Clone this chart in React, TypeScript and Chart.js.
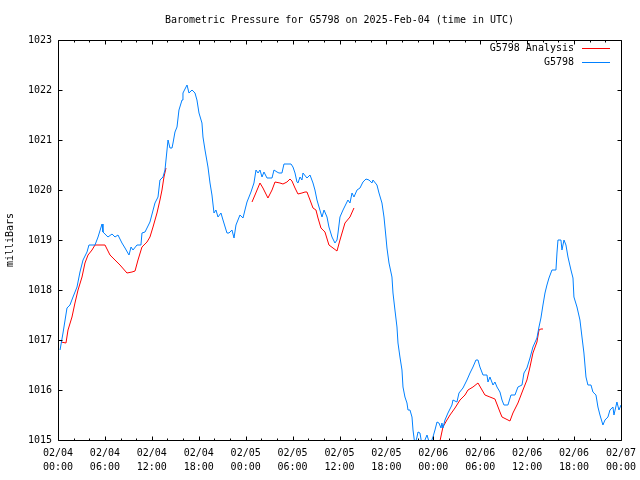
import React, { useEffect, useRef } from "react";
import { Chart, registerables } from "chart.js";

Chart.register(...registerables);

const TITLE = "Barometric Pressure for G5798 on 2025-Feb-04 (time in UTC)";
const Y_TITLE = "milliBars";
const SERIES_NAMES = ["G5798 Analysis", "G5798"];
const SERIES_COLORS = ["#ff0000", "#0080ff"];
const FONT_FAMILY = "'DejaVu Sans Mono', 'Liberation Mono', monospace";

const X_TICK_DATES = ["02/04", "02/04", "02/04", "02/04", "02/05", "02/05", "02/05", "02/05", "02/06", "02/06", "02/06", "02/06", "02/07"];
const X_TICK_TIMES = ["00:00", "06:00", "12:00", "18:00", "00:00", "06:00", "12:00", "18:00", "00:00", "06:00", "12:00", "18:00", "00:00"];
const X_MIN = 0;
const X_MAX = 72;
const Y_MIN = 1015;
const Y_MAX = 1023;

// Station observations (hours since 02/04 00:00 UTC, mb)
const stationHours = [
  0.26, 0.64, 1.15, 1.53, 1.92, 2.43, 2.81, 3.2, 3.71, 3.96, 4.73, 5.12, 5.63, 5.75, 6.39, 6.91, 7.29, 7.67, 8.18, 8.57,
  9.08, 9.34, 9.59, 10.1, 10.61, 10.74, 11.13, 11.76, 12.4, 12.79, 13.04, 13.43, 13.68, 13.94, 14.07, 14.32, 14.58, 14.71, 14.96, 15.22,
  15.47, 15.86, 15.98, 16.5, 16.75, 17.14, 17.52, 17.77, 18.03, 18.41, 18.54, 18.8, 19.18, 19.44, 19.69, 19.95, 20.2, 20.46, 20.84, 21.1,
  21.61, 21.87, 22.25, 22.51, 22.76, 23.27, 23.66, 23.91, 24.17, 24.68, 25.06, 25.32, 25.58, 25.83, 26.09, 26.34, 26.73, 27.37, 27.62, 28.01,
  28.26, 28.64, 28.9, 29.8, 30.05, 30.31, 30.56, 30.69, 30.95, 31.2, 31.33, 31.84, 32.23, 32.61, 32.86, 33.12, 33.38, 33.76, 34.02, 34.4,
  34.65, 35.04, 35.42, 35.68, 35.81, 36.06, 36.45, 37.08, 37.34, 37.6, 37.85, 38.24, 38.62, 39.0, 39.39, 39.77, 40.15, 40.28, 40.79, 41.05,
  41.43, 41.69, 41.94, 42.07, 42.33, 42.71, 42.84, 43.09, 43.35, 43.48, 43.73, 43.99, 44.12, 44.37, 44.63, 44.76, 45.01, 45.27, 45.4, 45.65,
  45.91, 46.04, 46.29, 46.55, 46.93, 47.19, 47.57, 47.95, 48.21, 48.47, 48.72, 48.98, 49.1, 49.23, 49.49, 49.87, 50.38, 50.51, 51.02, 51.28,
  51.79, 52.3, 52.69, 53.07, 53.45, 53.71, 53.96, 54.35, 54.86, 54.99, 55.24, 55.63, 55.88, 56.14, 56.52, 56.78, 57.03, 57.54, 57.93, 58.44,
  58.82, 59.34, 59.59, 59.97, 60.36, 60.74, 61.25, 61.51, 61.76, 62.02, 62.28, 62.53, 62.79, 63.17, 63.68, 63.81, 63.94, 64.32, 64.45, 64.71,
  64.96, 65.22, 65.6, 65.86, 65.98, 66.37, 66.75, 67.01, 67.26, 67.52, 67.77, 68.16, 68.41, 68.8, 69.05, 69.31, 69.69, 69.95, 70.33, 70.59,
  70.97, 71.1, 71.48, 71.74, 72.0,
];
const stationPressure = [
  1016.8, 1017.14, 1017.64, 1017.7, 1017.86, 1018.06, 1018.36, 1018.6, 1018.76, 1018.9, 1018.9, 1019.06, 1019.32, 1019.16, 1019.06, 1019.12, 1019.06, 1019.1, 1018.94, 1018.84,
  1018.7, 1018.86, 1018.8, 1018.9, 1018.9, 1019.14, 1019.16, 1019.36, 1019.74, 1019.86, 1020.2, 1020.26, 1020.4, 1020.8, 1021.0, 1020.84, 1020.84, 1020.94, 1021.16, 1021.26,
  1021.6, 1021.8, 1021.94, 1022.1, 1021.94, 1022.0, 1021.94, 1021.8, 1021.54, 1021.34, 1021.06, 1020.8, 1020.46, 1020.14, 1019.9, 1019.54, 1019.6, 1019.46, 1019.54, 1019.4,
  1019.14, 1019.14, 1019.2, 1019.04, 1019.3, 1019.5, 1019.44, 1019.6, 1019.76, 1019.96, 1020.14, 1020.4, 1020.34, 1020.4, 1020.26, 1020.36, 1020.24, 1020.24, 1020.4, 1020.36,
  1020.34, 1020.34, 1020.52, 1020.52, 1020.46, 1020.34, 1020.16, 1020.14, 1020.26, 1020.2, 1020.34, 1020.24, 1020.3, 1020.14, 1020.0, 1019.8, 1019.66, 1019.46, 1019.6, 1019.46,
  1019.26, 1019.06, 1018.94, 1019.0, 1019.14, 1019.46, 1019.6, 1019.8, 1019.74, 1019.94, 1019.86, 1020.0, 1020.04, 1020.16, 1020.22, 1020.2, 1020.14, 1020.2, 1020.1, 1019.94,
  1019.74, 1019.46, 1019.06, 1018.84, 1018.54, 1018.26, 1017.94, 1017.6, 1017.26, 1016.94, 1016.66, 1016.4, 1016.06, 1015.86, 1015.74, 1015.6, 1015.6, 1015.46, 1015.2, 1014.9,
  1015.06, 1015.16, 1015.14, 1014.9, 1015.0, 1015.1, 1014.9, 1015.06, 1015.2, 1015.36, 1015.34, 1015.24, 1015.34, 1015.24, 1015.4, 1015.54, 1015.7, 1015.8, 1015.76, 1015.94,
  1016.04, 1016.2, 1016.34, 1016.46, 1016.6, 1016.6, 1016.46, 1016.3, 1016.3, 1016.16, 1016.26, 1016.1, 1016.16, 1016.06, 1015.96, 1015.8, 1015.7, 1015.7, 1015.9, 1015.9,
  1016.06, 1016.1, 1016.34, 1016.44, 1016.64, 1016.86, 1017.04, 1017.26, 1017.44, 1017.7, 1017.94, 1018.1, 1018.24, 1018.4, 1018.4, 1018.74, 1019.0, 1019.0, 1018.8, 1019.0,
  1018.9, 1018.66, 1018.4, 1018.24, 1017.86, 1017.66, 1017.4, 1017.06, 1016.74, 1016.26, 1016.1, 1016.1, 1015.96, 1015.9, 1015.66, 1015.5, 1015.3, 1015.4, 1015.46, 1015.6,
  1015.66, 1015.5, 1015.76, 1015.6, 1015.7,
];

// Analysis (null marks a gap between analysis runs)
const analysisHours = [
  0.38, 1.02, 1.28, 1.79, 2.17, 2.56, 3.07, 3.45, 3.84, 4.35, 4.73, 6.01, 6.65, 7.03, 7.93, 8.82, 9.46, 9.85, 10.23, 10.74,
  11.38, 11.76, 12.15, 12.66, 13.04, 13.3, 13.55, 13.81,
  19.0,
  24.81, 25.19, 25.83, 26.21, 26.85, 27.37, 27.75, 28.39, 28.77, 29.28, 29.67, 29.92, 30.31, 30.69, 31.2, 31.59, 31.84, 32.23, 32.61, 32.99,
  33.25, 33.63, 34.14, 34.65, 35.17, 35.68, 36.06, 36.7, 37.34, 37.85,
  43.0,
  48.85, 49.23, 49.74, 50.13, 50.77, 51.41, 52.05, 52.43, 53.07, 53.71, 54.6, 55.24, 55.88, 56.52, 56.78, 57.8, 58.18, 58.82, 59.46, 59.97,
  60.36, 60.74, 61.25, 61.51, 61.76, 62.02,
];
const analysisPressure = [
  1016.96, 1016.94, 1017.2, 1017.46, 1017.74, 1018.0, 1018.26, 1018.54, 1018.7, 1018.8, 1018.9, 1018.9, 1018.7, 1018.64, 1018.5, 1018.34, 1018.36, 1018.38, 1018.6, 1018.86,
  1018.96, 1019.06, 1019.26, 1019.54, 1019.8, 1020.0, 1020.26, 1020.44,
  null,
  1019.76, 1019.9, 1020.14, 1020.04, 1019.84, 1020.0, 1020.16, 1020.14, 1020.12, 1020.16, 1020.22, 1020.18, 1020.04, 1019.92, 1019.94, 1019.96, 1019.96, 1019.8, 1019.64, 1019.6,
  1019.44, 1019.24, 1019.16, 1018.9, 1018.84, 1018.78, 1019.0, 1019.34, 1019.46, 1019.64,
  null,
  1014.98, 1015.26, 1015.4, 1015.5, 1015.64, 1015.8, 1015.9, 1016.0, 1016.06, 1016.14, 1015.9, 1015.86, 1015.82, 1015.56, 1015.46, 1015.38, 1015.54, 1015.74, 1016.0, 1016.2,
  1016.46, 1016.74, 1016.96, 1017.2, 1017.22, 1017.22,
];

const FONT = `10px ${FONT_FAMILY}`;

const decorPlugin = {
  id: "gnuplotDecor",
  afterDraw(chart: any) {
    const { ctx, chartArea: a, scales } = chart;
    const xs = scales.x;
    const ys = scales.y;
    const L = Math.round(a.left) + 0.5;
    const R = Math.round(a.right) + 0.5;
    const T = Math.round(a.top) + 0.5;
    const B = Math.round(a.bottom) + 0.5;
    ctx.save();
    ctx.strokeStyle = "#000";
    ctx.lineWidth = 1;
    ctx.beginPath();
    ctx.rect(L, T, R - L, B - T);
    for (let h = X_MIN; h <= X_MAX; h += 2) {
      const px = Math.round(xs.getPixelForValue(h)) + 0.5;
      const len = h % 6 === 0 ? 4 : 2;
      ctx.moveTo(px, B);
      ctx.lineTo(px, B - len);
      ctx.moveTo(px, T);
      ctx.lineTo(px, T + len);
    }
    for (let p = Y_MIN; p <= Y_MAX; p++) {
      const py = Math.round(ys.getPixelForValue(p)) + 0.5;
      ctx.moveTo(L, py);
      ctx.lineTo(L + 4, py);
      ctx.moveTo(R, py);
      ctx.lineTo(R - 4, py);
    }
    ctx.stroke();

    ctx.fillStyle = "#000";
    ctx.font = FONT;
    ctx.textBaseline = "middle";
    ctx.textAlign = "center";
    ctx.fillText(TITLE, (a.left + a.right) / 2, 20);

    ctx.textAlign = "right";
    SERIES_NAMES.forEach((name, i) => {
      const yy = Math.round(a.top + 8 + i * 14) + 0.5;
      ctx.fillStyle = "#000";
      ctx.fillText(name, a.right - 47, yy);
      ctx.strokeStyle = SERIES_COLORS[i];
      ctx.beginPath();
      ctx.moveTo(a.right - 39, yy);
      ctx.lineTo(a.right - 11, yy);
      ctx.stroke();
    });
    ctx.restore();
  },
};

export default function App() {
  const canvasRef = useRef<HTMLCanvasElement | null>(null);

  useEffect(() => {
    const canvas = canvasRef.current;
    if (!canvas) return;
    const stationData = stationHours.map((h, i) => ({ x: h, y: stationPressure[i] }));
    const analysisData = analysisHours.map((h, i) => ({ x: h, y: analysisPressure[i] }));

    const chart = new Chart(canvas, {
      type: "line",
      data: {
        datasets: [
          {
            label: SERIES_NAMES[1],
            data: stationData as any,
            borderColor: SERIES_COLORS[1],
            borderWidth: 1,
            pointRadius: 0,
            tension: 0,
            fill: false,
            clip: 0,
          },
          {
            label: SERIES_NAMES[0],
            data: analysisData as any,
            borderColor: SERIES_COLORS[0],
            borderWidth: 1,
            pointRadius: 0,
            tension: 0,
            fill: false,
            spanGaps: false,
            clip: 0,
          },
        ],
      },
      options: {
        responsive: false,
        animation: false,
        events: [],
        layout: { padding: { top: 40, right: 19, left: 0, bottom: 0 } },
        plugins: {
          legend: { display: false },
          title: { display: false },
          tooltip: { enabled: false },
        },
        scales: {
          x: {
            type: "linear",
            min: X_MIN,
            max: X_MAX,
            offset: false,
            grid: { display: false, drawTicks: false },
            border: { display: false },
            afterFit: (s: any) => {
              s.height = 40;
              s.paddingLeft = 0;
              s.paddingRight = 0;
            },
            afterBuildTicks: (s: any) => {
              s.ticks = X_TICK_DATES.map((_, i) => ({ value: X_MIN + i * 6 }));
            },
            ticks: {
              autoSkip: false,
              maxRotation: 0,
              minRotation: 0,
              padding: 6,
              color: "#000",
              font: { family: FONT_FAMILY, size: 10, lineHeight: 1.4 },
              callback: (v: any) => {
                const i = Math.round((Number(v) - X_MIN) / 6);
                return [X_TICK_DATES[i], X_TICK_TIMES[i]];
              },
            },
          },
          y: {
            type: "linear",
            min: Y_MIN,
            max: Y_MAX,
            offset: false,
            grid: { display: false, drawTicks: false },
            border: { display: false },
            afterFit: (s: any) => {
              s.width = 58;
              s.paddingTop = 0;
              s.paddingBottom = 0;
            },
            title: {
              display: true,
              text: Y_TITLE,
              color: "#000",
              font: { family: FONT_FAMILY, size: 10 },
              padding: { top: 4, bottom: 0 },
            },
            ticks: {
              stepSize: 1,
              padding: 6,
              color: "#000",
              font: { family: FONT_FAMILY, size: 10 },
              callback: (v: any) => String(v),
            },
          },
        },
      },
      plugins: [decorPlugin],
    });
    return () => chart.destroy();
  }, []);

  return (
    <div style={{ position: "fixed", left: 0, top: 0, width: 640, height: 480, background: "#fff" }}>
      <canvas ref={canvasRef} width={640} height={480} style={{ display: "block" }} />
    </div>
  );
}
